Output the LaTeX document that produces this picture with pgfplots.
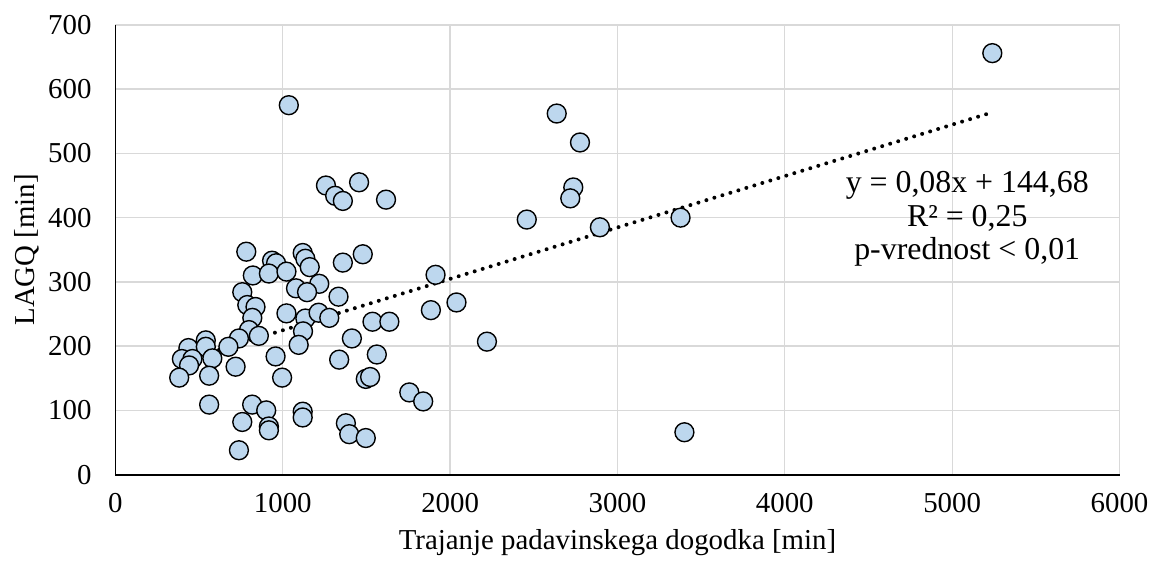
\documentclass[border=0pt]{standalone}
\usepackage{pgfplots}
\pgfplotsset{compat=1.18}
\usepackage{fontspec}
\setmainfont{Liberation Serif}
\definecolor{mfill}{HTML}{BDD7EE}
\definecolor{gridc}{HTML}{D9D9D9}
\begin{document}
\begin{tikzpicture}[font=\fontsize{14}{16}\selectfont]
\begin{axis}[
  scale only axis, width=504.5pt, height=226pt,
  xmin=0, xmax=6000, ymin=0, ymax=700,
  xtick={0,1000,...,6000}, ytick={0,100,...,700},
  grid=major, major grid style={gridc, line width=0.65pt},
  axis x line=bottom, axis y line=left,
  axis line style={-, black, line width=0.9pt},
  major tick length=0pt,
  /pgf/number format/assume math mode=true,
  /pgf/number format/1000 sep={},
  tick label style={font=\fontsize{14.5}{16}\selectfont},
  xticklabel style={yshift=-6pt},
  yticklabel style={xshift=-8.5pt},
  xlabel={Trajanje padavinskega dogodka [min]},
  ylabel={LAGQ [min]},
  every axis x label/.style={at={(axis description cs:0.5,0)}, anchor=center, yshift=-34pt, font=\fontsize{14.5}{16}\selectfont},
  every axis y label/.style={at={(axis description cs:0,0.5)}, anchor=center, rotate=90, yshift=44.5pt, font=\fontsize{14.5}{16}\selectfont},
  clip=false,
]
\addplot[only marks, mark=*, mark size=4.75pt, mark options={fill=mfill, draw=black, line width=0.7pt}] coordinates {
(1036,575) (1258,450) (1313,434) (1359,426) (1456,455) (1617,428)
(782,347) (936,333) (960,329) (821,310) (917,313) (1022,316)
(1119,345) (1135,336) (1161,323) (1359,330) (1478,343) (1913,311)
(1079,290) (1218,297) (1145,284) (758,284) (1333,277) (2038,268)
(788,264) (837,261) (818,244) (798,225) (857,216) (738,212)
(675,199) (540,209) (436,197) (540,199) (397,180) (460,180)
(440,170) (579,181) (381,151) (560,154) (718,168) (560,109)
(1022,251) (1135,243) (1214,252) (1278,244) (1121,223) (1095,202)
(957,184) (996,151) (1413,212) (1536,238) (1637,238) (1885,256)
(1337,179) (1562,187) (1496,149) (1522,152) (1756,128) (1839,114)
(817,109) (901,100) (758,82) (917,75) (917,69) (1119,98)
(1119,89) (1377,80) (1397,63) (1496,57) (738,38)
(2637,562) (2776,517) (2736,447) (2718,430) (2458,397) (2895,385)
(3377,400) (2220,207) (3400,66) (5240,656)
};
\addplot[black, line width=2pt, line cap=round, dash pattern=on 0pt off 4.2pt] coordinates {(380,175.08) (5240,563.88)};
\node[align=center, font=\fontsize{16}{16.75}\selectfont] at (axis cs:5090,398) {y = 0,08x + 144,68\\R² = 0,25\\p-vrednost < 0,01};
\coordinate (bl) at (rel axis cs:0,0);
\coordinate (tr) at (rel axis cs:1,1);
\end{axis}
\path ([shift={(-58pt,-45pt)}]bl) rectangle ([shift={(15pt,12.5pt)}]tr);
\end{tikzpicture}
\end{document}
